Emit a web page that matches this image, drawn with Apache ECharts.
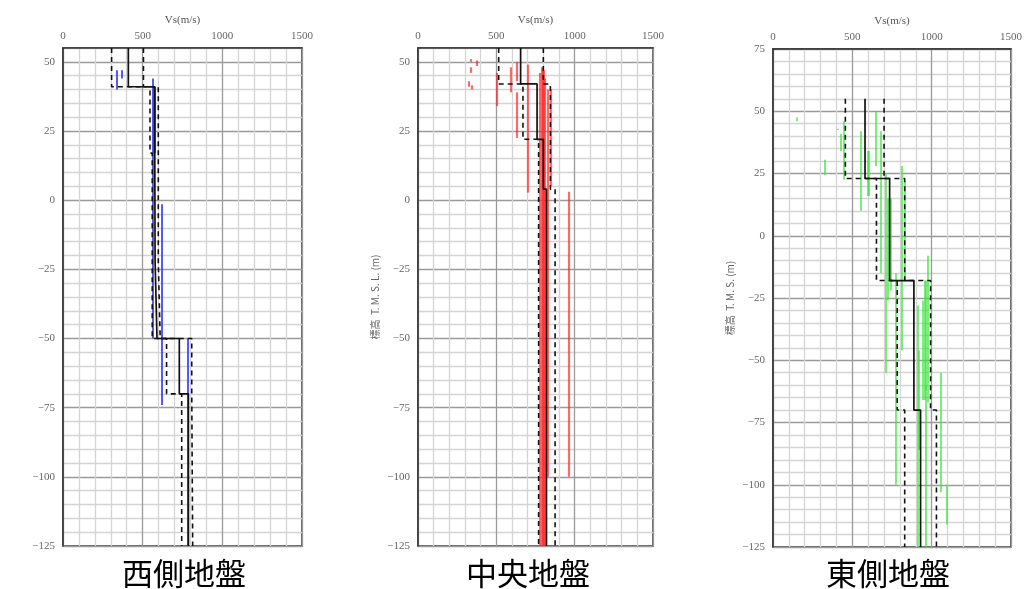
<!DOCTYPE html>
<html>
<head>
<meta charset="utf-8">
<script src="https://cdn.jsdelivr.net/npm/echarts@6/dist/echarts.min.js"></script>
<style>
  html, body { margin: 0; padding: 0; background: #fff; }
  #main { width: 1025px; height: 589px; }
</style>
</head>
<body>
<div id="main"></div>
<script>
// 西側地盤 layers (elevation top / bottom, Vs mean and dashed range)
var westTop    = [55, 41, 17, -22, -50, -70];
var westBottom = [41, 17, -22, -50, -70, -125];
var westMean   = [410, 576, 578, 590, 730, 787];
var westLower  = [305, 546, 560, 560, 650, 745];
var westUpper  = [505, 598, 598, 610, 808, 814];
// measured segments [Vs, top, bottom]
var westLogs = [
  [337, 47, 40], [368, 47, 44], [565, 44, -50], [572, 41, 17], [578, 41, 17],
  [620, -1.5, -74], [785, -50, -125]
];

// 中央地盤
var centerTop    = [55, 42, 22, 4];
var centerBottom = [42, 22, 4, -125];
var centerMean   = [655, 760, 800, 820];
var centerLower  = [515, 670, 770, 770];
var centerUpper  = [800, 845, 845, 875];
var centerLogs = [
  [334, 51, 50], [334, 48, 46], [325, 43, 41], [345, 41.5, 40], [372, 50.5, 48.5],
  [500, 46, 34], [590, 48, 39], [628, 50, 43], [632, 39, 22.5], [700, 49, 2.7],
  [960, 3, -100],
  [780, 46, -125], [788, 48, -125], [796, 47, -125], [804, 47, -125], [812, 44, -125],
  [830, 40, -100], [845, 40, 5]
];

// 東側地盤
var eastTop    = [55, 23, -18, -70];
var eastBottom = [23, -18, -70, -125];
var eastMean   = [580, 735, 888, 930];
var eastLower  = [456, 652, 783, 830];
var eastUpper  = [700, 830, 993, 1030];
var eastLogs = [
  [148, 47.5, 46], [328, 30.5, 24.5], [410, 43, 42.5], [428, 41, 34], [449, 46, 22.5],
  [550, 42, 10], [595, 34, 16], [601, 34, 16], [650, 50, 28], [680, 42, -15],
  [710, 25, -55], [725, 15, -26], [745, 15, -22], [775, -15, -100], [813, 28, -46],
  [830, 22, -18], [913, -28, -125], [920, -46, -86], [945, -26, -66], [955, -18, -66],
  [965, -18, -62], [978, -8, -67], [963, -60, -125], [1060, -55, -103], [1097, -100, -116]
];

var panelNames = ['西側地盤', '中央地盤', '東側地盤'];
var yNames = ['', '標高  T. M. S. L. (m)', '標高  T. M. S. (m)'];
var yMax = [55, 55, 75];

var serif = 'Liberation Serif';
var splitColors = ['#9a9a9a', '#d4d4d4', '#d4d4d4', '#d4d4d4', '#d4d4d4'];

function stepPoints(top, bottom, vals) {
  var pts = [];
  for (var i = 0; i < vals.length; i++) {
    pts.push([vals[i], top[i]]);
    pts.push([vals[i], bottom[i]]);
  }
  return pts;
}

function stepSeries(idx, top, bottom, vals, dashed) {
  return {
    type: 'line',
    xAxisIndex: idx, yAxisIndex: idx,
    data: stepPoints(top, bottom, vals),
    symbol: 'none',
    silent: true,
    z: 5,
    lineStyle: { color: '#111', width: dashed ? 1.6 : 1.7, type: dashed ? [5, 4] : 'solid' }
  };
}

function logSeries(idx, list, color, width, opacity) {
  return {
    type: 'lines',
    coordinateSystem: 'cartesian2d',
    xAxisIndex: idx, yAxisIndex: idx,
    silent: true,
    z: 3,
    lineStyle: { color: color, width: width, opacity: opacity },
    data: list.map(function (s) {
      return { coords: [[s[0], s[1]], [s[0], s[2]]] };
    })
  };
}

var gridPos = [
  { left: 63, top: 48, width: 239, height: 498 },
  { left: 418, top: 48, width: 235, height: 498 },
  { left: 773, top: 49, width: 240, height: 498 }
];

var grids = [], xAxes = [], yAxes = [];
for (var i = 0; i < 3; i++) {
  grids.push({
    left: gridPos[i].left, top: gridPos[i].top,
    width: gridPos[i].width, height: gridPos[i].height,
    show: true, borderColor: '#333', borderWidth: 1.5
  });
  xAxes.push({
    type: 'value', gridIndex: i, position: 'top',
    min: 0, max: 1500, interval: 100,
    name: 'Vs(m/s)', nameLocation: 'middle', nameGap: 22,
    nameTextStyle: { fontFamily: serif, fontSize: 11, color: '#555' },
    axisLine: { show: true, onZero: false, lineStyle: { color: '#333', width: 1.5 } },
    axisTick: { show: false },
    axisLabel: {
      margin: 6, color: '#666', fontFamily: serif, fontSize: 11,
      formatter: function (v) { return v % 500 === 0 ? String(v) : ''; }
    },
    splitLine: { show: true, lineStyle: { color: splitColors, width: 1.3 } }
  });
  yAxes.push({
    type: 'value', gridIndex: i,
    min: -125, max: yMax[i], interval: 5,
    name: yNames[i], nameLocation: 'middle', nameGap: 38,
    nameTextStyle: { fontFamily: 'Noto Sans CJK JP', fontSize: 10, color: '#666' },
    axisLine: { show: true, onZero: false, lineStyle: { color: '#333', width: 1.5 } },
    axisTick: { show: false },
    axisLabel: {
      margin: 8, color: '#666', fontFamily: serif, fontSize: 11,
      formatter: function (v) { return v % 25 === 0 ? String(v).replace('-', '\u2212') : ''; }
    },
    splitLine: { show: true, lineStyle: { color: splitColors, width: 1.3 } }
  });
}

var series = [
  logSeries(0, westLogs, '#3b3bff', 2, 0.85),
  stepSeries(0, westTop, westBottom, westMean, false),
  stepSeries(0, westTop, westBottom, westLower, true),
  stepSeries(0, westTop, westBottom, westUpper, true),

  logSeries(1, centerLogs, '#ff2a2a', 2.2, 0.7),
  stepSeries(1, centerTop, centerBottom, centerMean, false),
  stepSeries(1, centerTop, centerBottom, centerLower, true),
  stepSeries(1, centerTop, centerBottom, centerUpper, true),

  logSeries(2, eastLogs, '#3be63b', 1.6, 0.85),
  stepSeries(2, eastTop, eastBottom, eastMean, false),
  stepSeries(2, eastTop, eastBottom, eastLower, true),
  stepSeries(2, eastTop, eastBottom, eastUpper, true)
];

var captions = [];
var capX = [186, 530, 890];
for (var k = 0; k < 3; k++) {
  captions.push({
    type: 'text', left: capX[k] - 64, top: 558,
    style: { text: panelNames[k], font: '31px "Noto Sans CJK JP"', fill: '#000' }
  });
}

var myChart = echarts.init(document.getElementById('main'));
myChart.setOption({
  animation: false,
  grid: grids,
  xAxis: xAxes,
  yAxis: yAxes,
  series: series,
  graphic: captions
});
</script>
</body>
</html>
